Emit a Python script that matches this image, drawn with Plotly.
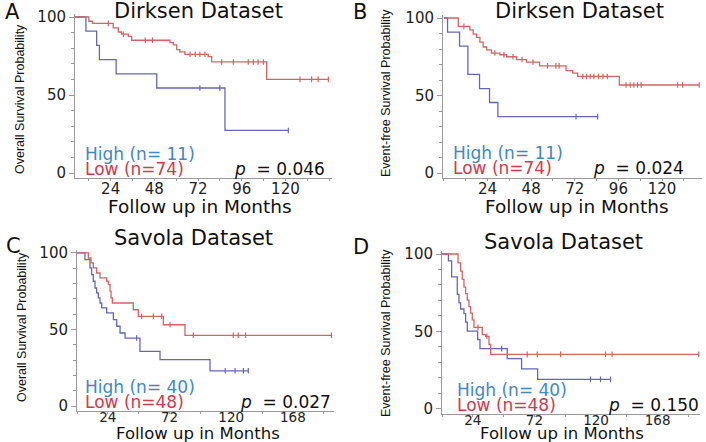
import numpy as np
import plotly.graph_objects as go

# ---------------- data ----------------
# Panel A: Dirksen, overall survival
A_high_t = [0, 10.4, 16.3, 17.8, 27, 49.3, 86.8]
A_high_s = [100, 90.9, 81.8, 72.7, 63.6, 54.5, 27.3]
A_high_cens = [73, 84, 121.6]
A_low_t = [0, 12, 14, 25.4, 28.2, 30, 33.7, 35.5, 56.6, 58.4, 60.3, 62, 64.8, 77.6, 79.5, 109.7]
A_low_s = [100, 97.3, 95.9, 93.1, 90.4, 89.0, 87.6, 85.1, 83.6, 82.1, 79.1, 77.6, 76.1, 74.6, 71.2, 60.0]
A_low_cens = [22.7, 31, 43, 47, 67.6, 70.5, 73, 75.8, 85, 91.4, 99.6, 102.4, 105, 107.9, 128, 134.4, 138, 143.6]

# Panel B: Dirksen, event-free survival
B_high_t = [0, 2, 8.6, 13.2, 19.6, 25.1, 29.7]
B_high_s = [100, 90.9, 81.8, 63.6, 54.5, 45.5, 36.4]
B_high_cens = [72.7, 84.6]
B_low_t = [0, 7.9, 14.3, 16.1, 18, 19.8, 21.6, 23.5, 26.2, 30.8, 34.5, 40, 45.4, 52.6, 67.2, 70.9, 73.6, 96.5]
B_low_s = [100, 94.6, 92.4, 89.6, 87.5, 84.4, 81.3, 79.4, 77.4, 76.3, 75.0, 73.2, 71.6, 69.1, 66.0, 64.5, 62.3, 56.8]
B_low_cens = [11, 28, 33, 38, 43, 49, 57, 61.6, 63.4, 76.4, 78.5, 80.5, 82.5, 85, 87.5, 89.9,
              100.2, 102.5, 104.5, 106.5, 108.5, 128.6, 131.3, 140.5]

# Panel C: Savola, overall survival
C_high_t = [0, 6.2, 10.1, 11.4, 12.7, 14, 15.3, 16.6, 17.9, 19.2, 23.1, 28.3, 30.9, 33.5, 37.4, 49, 64.6, 103.5]
C_high_s = [100, 95.6, 90.2, 85.8, 81.5, 77.1, 73.9, 70.6, 67.3, 64.1, 60.8, 56.4, 52.1, 47.7, 44.4, 35.7, 30.3, 23.0]
C_high_cens = [46.4, 115.4, 123, 129.5, 133.3]
C_low_t = [0, 8.8, 10.9, 12.7, 15.3, 17.9, 23.1, 24.4, 25.7, 26.5, 27.5, 43.8, 47.7, 67.2, 84]
C_low_s = [100, 96.7, 93.5, 90.2, 86.9, 83.7, 81.5, 79.3, 75, 70.6, 67.3, 62.9, 58.6, 53.1, 46.2]
C_low_cens = [50.3, 59.4, 65.9, 72.4, 90.5, 121.6, 125.5, 131.2, 198]

# Panel D: Savola, event-free survival
D_high_t = [0, 5, 7.5, 11.9, 13.2, 14.5, 17.1, 18.4, 19.7, 27.8, 29.6, 50.8, 62, 74.5]
D_high_s = [100, 95.5, 85.3, 74, 68.5, 64.5, 61.5, 56, 50.2, 44.8, 38.9, 32.5, 25.8, 19.1]
D_high_cens = [46.5, 115.7, 123.5, 131.3]
D_low_t = [0, 12.5, 14.5, 15.8, 17.1, 18.4, 19.7, 21, 22.3, 23.6, 24.9, 31.4, 34, 36.6, 37.9]
D_low_s = [100, 94.3, 88.9, 83.6, 78.6, 74.4, 70.2, 66, 61.8, 57.5, 52.7, 48, 46.9, 41.6, 35.2]
D_low_cens = [28, 35, 66.4, 74.2, 92.4, 127.4, 132.5, 200]

panel_letters = ["A", "B", "C", "D"]
panel_titles = ["Dirksen Dataset", "Dirksen Dataset", "Savola Dataset", "Savola Dataset"]
y_titles = ["Overall Survival Probability", "Event-free Survival Probability",
            "Overall Survival Probability", "Event-free Survival Probability"]
x_title = "Follow up in Months"
high_labels = ["High (n= 11)", "High (n= 11)", "High (n= 40)", "High (n= 40)"]
low_labels = ["Low (n=74)", "Low (n=74)", "Low (n=48)", "Low (n=48)"]
p_values = ["0.046", "0.024", "0.027", "0.150"]
x_ticks_dirksen = [24, 48, 72, 96, 120]
x_ticks_savola = [24, 72, 120, 168]
y_ticks = [0, 50, 100]

# ---------------- style ----------------
W, H = 706, 442
BLUE_LINE = "#6666b8"
RED_LINE = "#d46464"
BLUE_TXT = "#3f88c8"
RED_TXT = "#cf3a4c"
AXIS_COL = "#9a9a9a"
FONT = "DejaVu Sans"
NARROW = "Liberation Sans"

def px2x(px):
    return px / W

def px2y(py):
    return 1 - py / H

# panel geometry in pixels: (x_left, x_right), (y_top, y_bottom), x range
panels = [
    dict(xd=(75, 332), yd=(13.9, 177.7), xr=(4.4, 145.6), ticks=x_ticks_dirksen, minor=12,
         tfs=15, tso=-5, xts=18.5,
         curves=((A_high_t, A_high_s, A_high_cens), (A_low_t, A_low_s, A_low_cens)),
         letter=(12, 12), title=(198, 11), xt=(200, 206), yt=(20, 99),
         hi=(83, 154), lo=(83, 169), p=(327, 169)),
    dict(xd=(443, 702), yd=(14.9, 177.7), xr=(-0.5, 142), ticks=x_ticks_dirksen, minor=12,
         tfs=15, tso=-5, xts=18.5,
         curves=((B_high_t, B_high_s, B_high_cens), (B_low_t, B_low_s, B_low_cens)),
         letter=(360, 12), title=(579, 11), xt=(577, 206), yt=(386, 93),
         hi=(451, 152.5), lo=(451, 167.5), p=(686, 168)),
    dict(xd=(77, 334), yd=(249.9, 410.6), xr=(0, 200), ticks=x_ticks_savola, minor=24,
         tfs=13.5, tso=-8, xts=16.5,
         curves=((C_high_t, C_high_s, C_high_cens), (C_low_t, C_low_s, C_low_cens)),
         letter=(13, 246), title=(193, 238), xt=(198, 433), yt=(22, 327),
         hi=(83, 387), lo=(83, 402), p=(333, 402)),
    dict(xd=(442, 700), yd=(250.9, 413.6), xr=(0, 201), ticks=x_ticks_savola, minor=24,
         tfs=13.5, tso=-8, xts=16.5,
         curves=((D_high_t, D_high_s, D_high_cens), (D_low_t, D_low_s, D_low_cens)),
         letter=(361, 247), title=(563, 242), xt=(562, 433), yt=(386, 333),
         hi=(455, 390), lo=(455, 405), p=(701, 405)),
]

fig = go.Figure()
annotations = []
layout_axes = {}

for i, pn in enumerate(panels):
    k = "" if i == 0 else str(i + 1)
    xa, ya = "x" + k, "y" + k
    for (t, s, cens), col in zip(pn["curves"], (BLUE_LINE, RED_LINE)):
        t = list(t)
        s = list(s)
        end = max(max(cens), t[-1])
        fig.add_trace(go.Scatter(x=t + [end], y=s + [s[-1]], mode="lines",
                                 line=dict(color=col, width=1.3, shape="hv"),
                                 xaxis=xa, yaxis=ya, showlegend=False, hoverinfo="skip"))
        idx = np.searchsorted(np.array(t), np.array(cens), side="right") - 1
        cy = [s[j] for j in idx]
        fig.add_trace(go.Scatter(x=list(cens), y=cy, mode="markers",
                                 marker=dict(symbol="line-ns", size=4,
                                             line=dict(color=col, width=1.2)),
                                 xaxis=xa, yaxis=ya, showlegend=False, hoverinfo="skip"))

    x0, x1 = pn["xd"]
    yt0, yb0 = pn["yd"]
    lo_, hi_ = pn["xr"]
    minor_x = [float(v) for v in np.arange(0, hi_ + 1, pn["minor"]) if v >= lo_ and v not in pn["ticks"]]
    layout_axes["xaxis" + k] = dict(
        domain=[px2x(x0), px2x(x1)], range=list(pn["xr"]), anchor=ya, automargin=False,
        showline=True, linecolor=AXIS_COL, linewidth=1, showgrid=False, zeroline=False,
        tickvals=pn["ticks"], ticks="outside", ticklen=2, tickcolor=AXIS_COL,
        ticklabelstandoff=pn["tso"],
        tickfont=dict(family=FONT, size=pn["tfs"], color="#222"),
        minor=dict(tickvals=minor_x, ticks="outside", ticklen=2, tickcolor=AXIS_COL),
    )
    layout_axes["yaxis" + k] = dict(
        domain=[px2y(yb0), px2y(yt0)], range=[-3, 102], anchor=xa, automargin=False,
        showline=True, linecolor=AXIS_COL, linewidth=1, showgrid=False, zeroline=False,
        tickvals=y_ticks, ticks="outside", ticklen=5, tickcolor=AXIS_COL,
        tickfont=dict(family=FONT, size=15, color="#222"),
        minor=dict(tickvals=[10, 20, 30, 40, 60, 70, 80, 90], ticks="outside",
                   ticklen=3, tickcolor=AXIS_COL),
    )

    def ann(text, pos, size, color="#111", xanchor="center", family=FONT, angle=0):
        annotations.append(dict(text=text, x=px2x(pos[0]), y=px2y(pos[1]), xref="paper",
                                yref="paper", xanchor=xanchor, yanchor="middle",
                                showarrow=False, textangle=angle,
                                font=dict(family=family, size=size, color=color)))

    ann(panel_letters[i], pn["letter"], 21)
    ann(panel_titles[i], pn["title"], 21)
    ann(x_title, pn["xt"], pn["xts"])
    ann(y_titles[i], pn["yt"], 12.5, family=NARROW, angle=-90)
    ann(high_labels[i], pn["hi"], 17, color=BLUE_TXT, xanchor="left")
    ann(low_labels[i], pn["lo"], 17, color=RED_TXT, xanchor="left")
    ann("<i>p</i>  = " + p_values[i], pn["p"], 17, xanchor="right")

fig.update_layout(width=W, height=H, margin=dict(l=0, r=0, t=0, b=0),
                  paper_bgcolor="white", plot_bgcolor="white",
                  annotations=annotations, showlegend=False, **layout_axes)

fig.write_html("out.html", config={"displayModeBar": False},
               post_script="document.body.style.margin='0';document.body.style.padding='0';")
